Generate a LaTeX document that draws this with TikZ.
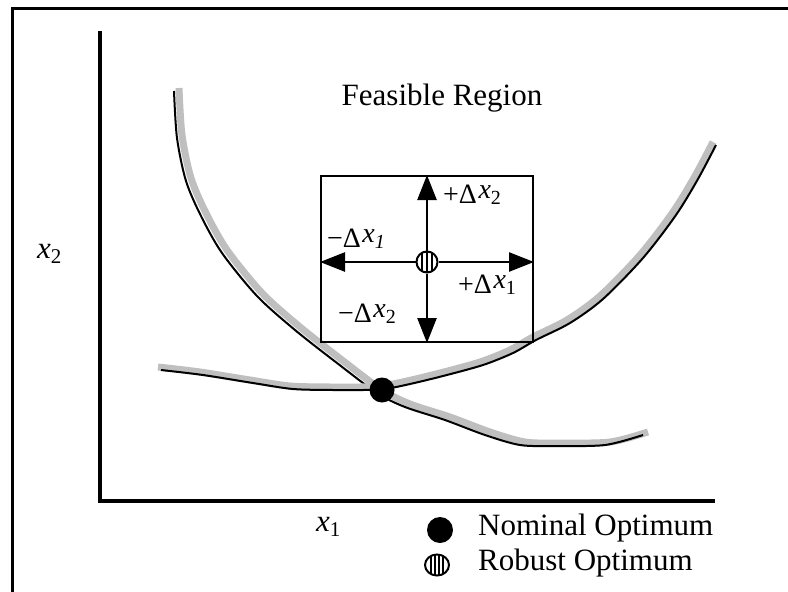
\documentclass[tikz,border=0pt]{standalone}
\usepackage{fontspec}
\setmainfont{Liberation Serif}
\usetikzlibrary{arrows.meta,shapes.geometric}
\newcommand{\dxlab}[2]{#1Δ\hspace{1.5pt}\raisebox{5pt}{\textit{x}\raisebox{-6pt}{\fontsize{20}{20}\selectfont #2}}}
\tikzset{
curvegray/.style={line width=7pt,draw=black!25,line join=round},
curveblack/.style={line width=2pt,draw=black,line join=round},
dirarr/.style={line width=2.5pt,-{Triangle[length=25pt,width=19pt]}},
optdot/.style={circle,fill=black,inner sep=0pt,minimum size=#1},
robdot/.style={circle,draw=black,line width=2pt,fill=white,inner sep=0pt,minimum size=21pt,
  path picture={\foreach \s in {-5,0,5}{\draw[line width=2pt] ([xshift=\s*1pt]path picture bounding box.south) -- ([xshift=\s*1pt]path picture bounding box.north);}}},
robkey/.style={ellipse,draw=black,line width=2pt,fill=white,inner sep=0pt,minimum width=24pt,minimum height=21pt,
  path picture={\foreach \s in {-6,-2,2,6}{\draw[line width=2.2pt] ([xshift=\s*1pt]path picture bounding box.south) -- ([xshift=\s*1pt]path picture bounding box.north);}}},
biglbl/.style={font=\fontsize{31}{35}\selectfont,inner sep=0pt},
dlbl/.style={font=\fontsize{28}{31}\selectfont,inner sep=0pt,anchor=base west}
}
\begin{document}
\begin{tikzpicture}[x=1pt,y=-1pt]
\useasboundingbox (0,0) rectangle (788,592);
% frame and axes
\draw[line width=3pt] (12,592) -- (12,8) -- (788,8);
\draw[line width=4.5pt] (100,31) -- (100,501) -- (715,501);
% constraint curves
\draw[curvegray] plot[smooth] coordinates {(179,88) (182,135) (191,178) (206,213) (227,250) (262,293) (300,327) (342,360) (382,390) (410,404) (450,417) (490,432) (525,442) (560,443) (610,442) (648,432)};
\draw[curveblack,xshift=-5pt,yshift=-3pt] plot[smooth] coordinates {(179,88) (182,135) (191,178) (206,213) (227,250) (262,293) (300,327) (342,360) (382,390) (410,404) (450,417) (490,432) (525,442) (560,443) (610,442) (648,432)};
\draw[curvegray] plot[smooth] coordinates {(158,367) (200,372) (250,380) (290,386) (330,387) (360,387) (382,386) (407,381) (440,373) (480,362) (510,350) (533,337) (567,320) (600,296) (640,255) (673,212) (695,176) (713,142)};
\draw[curveblack,xshift=3pt,yshift=-3pt] plot[smooth] coordinates {(158,367) (200,372) (250,380) (290,386) (330,387) (360,387) (382,386) (407,381) (440,373) (480,362) (510,350) (533,337) (567,320) (600,296) (640,255) (673,212) (695,176) (713,142)};
% uncertainty box
\node[draw,line width=2pt,minimum width=212pt,minimum height=166pt,inner sep=0pt] (win) at (427,259) {};
\node[robdot] (rob) at (427,262) {};
\coordinate (wl) at (win.west |- rob);
\coordinate (wr) at (win.east |- rob);
\draw[dirarr] (rob) -- (win.north);
\draw[dirarr] (rob) -- (win.south);
\draw[dirarr] (rob) -- (wl);
\draw[dirarr] (rob) -- (wr);
\node[dlbl] (pdx2) at (443,203) {\dxlab{+}{2}};
\node[dlbl] (mdx1) at (327,247) {\dxlab{−}{\textit{1}}};
\node[dlbl] (pdx1) at (458,293) {\dxlab{+}{1}};
\node[dlbl] (mdx2) at (338,322) {\dxlab{−}{2}};
\node[optdot=25pt] (nom) at (382,390) {};
% labels
\node[biglbl,anchor=base] (feas) at (442,105) {Feasible Region};
\node[biglbl,anchor=base west] (xtwo) at (37,258) {\textit{x}\raisebox{-5pt}{\fontsize{21}{21}\selectfont 2}};
\node[biglbl,anchor=base west] (xone) at (316,531) {\textit{x}\raisebox{-5pt}{\fontsize{21}{21}\selectfont 1}};
% legend
\node[optdot=26pt] (nomkey) at (440,530) {};
\node[robkey] (robk) at (437,565) {};
\node[biglbl,anchor=base west] (nomtxt) at (478,535) {Nominal Optimum};
\node[biglbl,anchor=base west] (robtxt) at (478,570) {Robust Optimum};
\end{tikzpicture}
\end{document}
